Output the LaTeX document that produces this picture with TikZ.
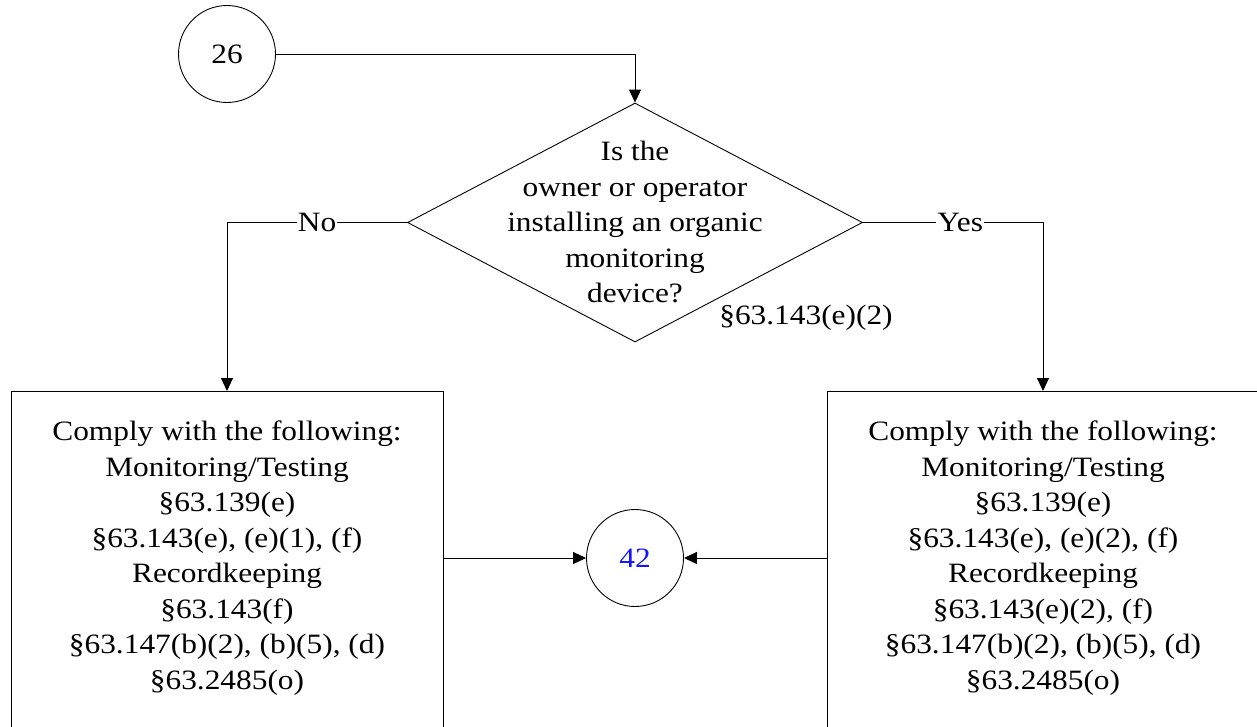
\documentclass[tikz,border=0pt]{standalone}
\usepackage{fontspec}
\setmainfont{Liberation Serif}[FakeStretch=1.12]
\usetikzlibrary{arrows.meta,shapes.geometric}
\definecolor{linkblue}{RGB}{20,20,255}
\begin{document}
\begin{tikzpicture}[x=1pt,y=1pt,
  every node/.style={font=\fontsize{28}{35.5}\selectfont},
  conn/.style={draw=black,line width=0.9pt},
  arr/.style={conn,-{Triangle[length=13pt,width=12pt]}},
  roundnode/.style={circle,draw,line width=0.9pt,minimum size=97pt,inner sep=0pt},
  decision/.style={diamond,draw,line width=0.9pt,minimum width=455pt,minimum height=239pt,inner sep=0pt},
  boxnode/.style={rectangle,draw,line width=0.9pt,minimum width=432pt,minimum height=380pt,inner sep=0pt,anchor=north},
  txt/.style={align=center,inner sep=0pt},
  lbl/.style={fill=white,inner sep=1pt}]
\useasboundingbox (0,0) rectangle (1257,-726);
\clip (0,0) rectangle (1257,-726);
\node[roundnode] (c26) at (227,-54) {26};
\node[decision] (q) at (635,-222.5) {};
\node[txt] (qt) at (635,-222) {Is the\\owner or operator\\installing an organic\\monitoring\\device?};
\node[txt] (ref) at (806,-318) {§63.143(e)(2)};
\node[boxnode] (bl) at (227,-391) {};
\node[txt] (blt) at (227,-558) {Comply with the following:\\Monitoring/Testing\\§63.139(e)\\§63.143(e), (e)(1), (f)\\Recordkeeping\\§63.143(f)\\§63.147(b)(2), (b)(5), (d)\\§63.2485(o)};
\node[boxnode] (br) at (1043,-391) {};
\node[txt] (brt) at (1043,-558) {Comply with the following:\\Monitoring/Testing\\§63.139(e)\\§63.143(e), (e)(2), (f)\\Recordkeeping\\§63.143(e)(2), (f)\\§63.147(b)(2), (b)(5), (d)\\§63.2485(o)};
\node[roundnode,text=linkblue] (c42) at (635,-558) {42};
\draw[arr] (c26.east) -| (q.north);
\draw[arr] (q.west) -| node[lbl,pos=0.25] {No} (bl.north);
\draw[arr] (q.east) -| node[lbl,pos=0.27] {Yes} (br.north);
\draw[arr] (c42 -| bl.east) -- (c42.west);
\draw[arr] (c42 -| br.west) -- (c42.east);
\end{tikzpicture}
\end{document}
